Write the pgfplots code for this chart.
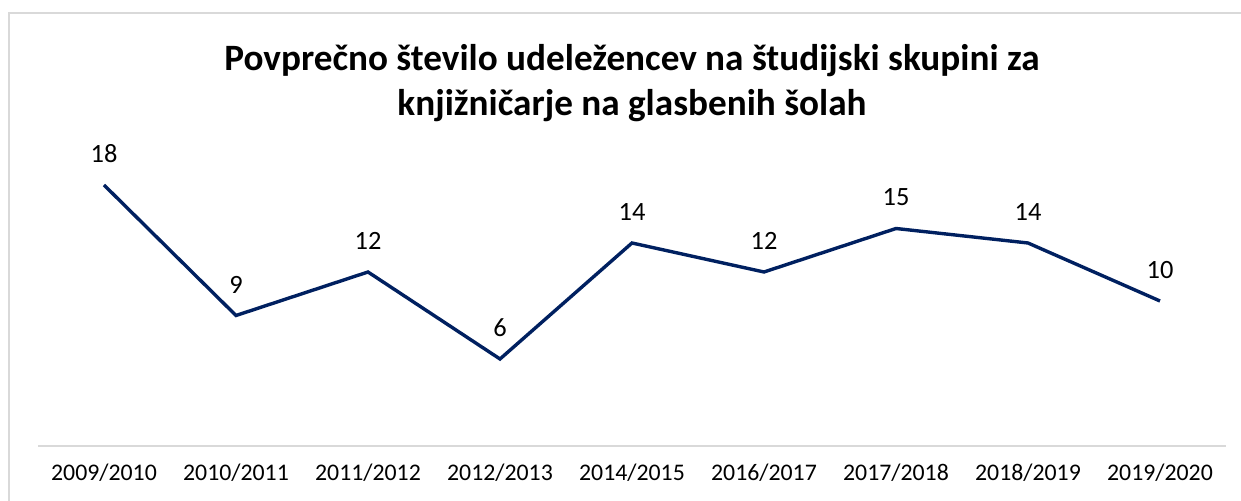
\documentclass[border=0pt]{standalone}
\usepackage{pgfplots}
\pgfplotsset{compat=1.18}
\usepackage{fontspec}
\setmainfont{Carlito}
\definecolor{navy}{HTML}{002060}
\definecolor{bord}{HTML}{D9D9D9}
\begin{document}
\begin{tikzpicture}[x=1pt,y=1pt]
\useasboundingbox (0,0) rectangle (620.5,250.5);
\draw[bord,line width=1pt] (4.5,0) -- (4.5,244) -- (620.5,244);
\begin{axis}[
  at={(19pt,27.5pt)}, anchor=south west,
  scale only axis, width=594pt, height=145pt,
  xmin=-0.5, xmax=8.5, ymin=0, ymax=20,
  axis y line=none, axis x line*=bottom,
  x axis line style={bord, line width=1pt, -},
  xtick=data, major tick length=0pt,
  xticklabels={2009/2010,2010/2011,2011/2012,2012/2013,2014/2015,2016/2017,2017/2018,2018/2019,2019/2020},
  xticklabel style={font=\fontsize{11.9}{14}\selectfont, yshift=-5.5pt},
  nodes near coords,
  every node near coord/.append style={font=\fontsize{13.2}{15}\selectfont, yshift=7pt, black, /pgf/number format/assume math mode=true},
  clip=false,
]
\addplot[navy, line width=1.7pt, mark=none] coordinates {
(0,18) (1,9) (2,12) (3,6) (4,14) (5,12) (6,15) (7,14) (8,10)};
\end{axis}
\node[align=center, font=\bfseries\fontsize{18.6}{22.5}\selectfont] at (316,209) {Povprečno število udeležencev na študijski skupini za\\knjižničarje na glasbenih šolah};
\end{tikzpicture}
\end{document}
